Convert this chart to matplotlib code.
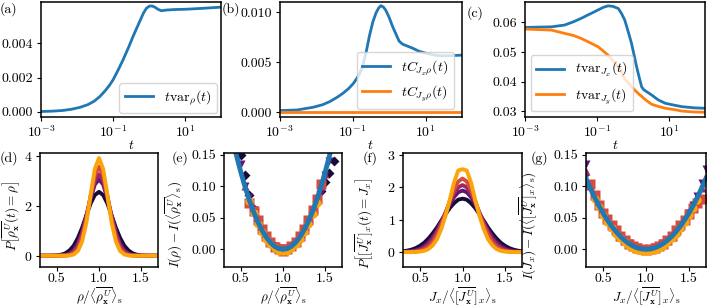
import numpy as np
import matplotlib
matplotlib.use("Agg")
import matplotlib.pyplot as plt
from matplotlib.ticker import FixedLocator, FormatStrFormatter, NullLocator

plt.rcParams.update({
    "font.family": "serif",
    "font.serif": ["cmr10"],
    "mathtext.fontset": "cm",
    "axes.formatter.use_mathtext": True,
    "axes.unicode_minus": False,
    "font.size": 10,
    "axes.linewidth": 1.1,
    "xtick.major.size": 3,
    "ytick.major.size": 3,
    "xtick.major.pad": 2.5,
    "ytick.major.pad": 2.5,
    "legend.fontsize": 10,
})

nan = np.nan

# (a) time-scaled variance of rho
t_a = [0.001, 0.002, 0.004, 0.007, 0.012, 0.02, 0.03, 0.043, 0.06, 0.08, 0.1,
       0.14, 0.19, 0.27, 0.36, 0.45, 0.55, 0.7, 0.85, 1.05, 1.25, 1.45, 1.8,
       2.2, 3.0, 5.0, 11, 30, 100]
var_rho = [0.00002, 0.00004, 0.00008, 0.00015, 0.00026, 0.00042, 0.00062,
           0.00089, 0.00122, 0.00155, 0.00186, 0.00245, 0.00303, 0.00375,
           0.00439, 0.00485, 0.00526, 0.00575, 0.00604, 0.00617, 0.00616,
           0.0061, 0.00597, 0.00589, 0.00593, 0.00596, 0.00598, 0.00603, 0.0061]

# (b) covariances
t_b = [0.001, 0.003, 0.0083, 0.015, 0.024, 0.038, 0.055, 0.08, 0.107, 0.15,
       0.19, 0.24, 0.29, 0.36, 0.44, 0.52, 0.6, 0.7, 0.81, 1.0, 1.24, 1.55,
       1.89, 2.34, 3.2, 4.4, 6.5, 10, 18, 28, 50, 100]
cov_jx = [0.00017, 0.00023, 0.0005, 0.00075, 0.00107, 0.0015, 0.0019, 0.0024,
          0.0029, 0.0037, 0.0046, 0.0061, 0.0076, 0.0090, 0.0099, 0.0104,
          0.01063, 0.0105, 0.0102, 0.0095, 0.0086, 0.0078, 0.0071, 0.0068,
          0.0066, 0.0064, 0.0061, 0.0059, 0.0057, 0.00563, 0.00565, 0.0057]
t_b2 = [0.001, 0.01, 0.1, 1, 10, 100]
cov_jy = [0.00003, 0.00003, 0.00003, 0.00003, 0.00003, 0.00003]

# (c) current variances
t_c = [0.001, 0.0054, 0.0126, 0.022, 0.036, 0.06, 0.107, 0.15, 0.204, 0.28,
       0.39, 0.48, 0.59, 0.75, 0.91, 1.26, 1.55, 1.74, 2.0, 2.4, 3.3, 5.0,
       7.9, 14, 23, 50, 100]
var_jx = [0.0583, 0.0585, 0.0591, 0.0602, 0.06135, 0.0627, 0.0642, 0.0651,
          0.0656, 0.0654, 0.0647, 0.0630, 0.0608, 0.0565, 0.0529, 0.0450,
          0.0405, 0.0382, 0.0372, 0.03655, 0.03544, 0.0338, 0.03264, 0.0320,
          0.03149, 0.0311, 0.03095]
var_jy = [0.05775, 0.0574, 0.05628, 0.0556, 0.0546, 0.0533, 0.05176, 0.0503,
          0.0489, 0.0470, 0.0448, 0.0432, 0.0408, 0.0395, 0.0382, 0.0365,
          0.03544, 0.0350, 0.0343, 0.0335, 0.0323, 0.0316, 0.03095, 0.0305,
          0.0300, 0.0297, 0.0296]

# (d) and (f) histograms, common grid
h_x = [0.30, 0.35, 0.40, 0.45, 0.50, 0.55, 0.60, 0.65, 0.70, 0.75, 0.80,
       0.85, 0.90, 0.95, 1.00, 1.05, 1.10, 1.15, 1.20, 1.25, 1.30, 1.35,
       1.40, 1.45, 1.50, 1.55, 1.60, 1.65, 1.70]
p_rho = [
    [0, 0, 0, 0.005, 0.015, 0.04, 0.095, 0.21, 0.40, 0.71, 1.12, 1.61, 2.08, 2.42,
     2.55, 2.42, 2.08, 1.61, 1.12, 0.71, 0.40, 0.21, 0.095, 0.04, 0.015, 0.005, 0, 0, 0],
    [0, 0, 0, 0, 0, 0.01, 0.03, 0.086, 0.22, 0.49, 0.95, 1.58, 2.28, 2.84,
     3.05, 2.84, 2.28, 1.58, 0.95, 0.49, 0.22, 0.086, 0.03, 0.01, 0, 0, 0, 0, 0],
    [0, 0, 0, 0, 0, 0.004, 0.017, 0.057, 0.17, 0.41, 0.87, 1.55, 2.34, 2.99,
     3.25, 2.99, 2.34, 1.55, 0.87, 0.41, 0.17, 0.057, 0.017, 0.004, 0, 0, 0, 0, 0],
    [0, 0, 0, 0, 0, 0, 0.006, 0.027, 0.10, 0.29, 0.72, 1.45, 2.38, 3.21,
     3.55, 3.21, 2.38, 1.45, 0.72, 0.29, 0.10, 0.027, 0.006, 0, 0, 0, 0, 0, 0],
    [0, 0, 0, 0, 0, 0, 0, 0.01, 0.05, 0.19, 0.57, 1.32, 2.41, 3.46,
     3.9, 3.46, 2.41, 1.32, 0.57, 0.19, 0.05, 0.01, 0, 0, 0, 0, 0, 0, 0],
]
p_jx = [
    [0.025, 0.045, 0.076, 0.124, 0.195, 0.29, 0.42, 0.58, 0.76, 0.97, 1.17, 1.36, 1.51, 1.62,
     1.65, 1.62, 1.51, 1.36, 1.17, 0.97, 0.76, 0.58, 0.42, 0.29, 0.195, 0.124, 0.076, 0.045, 0.025],
    [0.007, 0.015, 0.03, 0.06, 0.11, 0.19, 0.31, 0.47, 0.68, 0.93, 1.21, 1.47, 1.70, 1.85,
     1.9, 1.85, 1.70, 1.47, 1.21, 0.93, 0.68, 0.47, 0.31, 0.19, 0.11, 0.06, 0.03, 0.015, 0.007],
    [0.003, 0.007, 0.017, 0.036, 0.072, 0.137, 0.24, 0.40, 0.62, 0.89, 1.21, 1.53, 1.81, 2.00,
     2.07, 2.00, 1.81, 1.53, 1.21, 0.89, 0.62, 0.40, 0.24, 0.137, 0.072, 0.036, 0.017, 0.007, 0.003],
    [0, 0.003, 0.007, 0.017, 0.04, 0.086, 0.17, 0.31, 0.53, 0.83, 1.19, 1.58, 1.93, 2.18,
     2.27, 2.18, 1.93, 1.58, 1.19, 0.83, 0.53, 0.31, 0.17, 0.086, 0.04, 0.017, 0.007, 0.003, 0],
    [0, 0, 0, 0.005, 0.015, 0.04, 0.095, 0.21, 0.40, 0.71, 1.12, 1.61, 2.15, 2.52,
     2.56, 2.52, 2.15, 1.61, 1.12, 0.71, 0.40, 0.21, 0.095, 0.04, 0.015, 0.005, 0, 0, 0],
]

# (e) rate function of rho
e_x = [0.45, 0.50, 0.55, 0.60, 0.65, 0.70, 0.75, 0.80, 0.85, 0.90, 0.95, 1.00,
       1.05, 1.10, 1.15, 1.20, 1.25, 1.30, 1.35, 1.40, 1.45, 1.50, 1.55, 1.60]
i_rho = [
    [0.172, 0.150, 0.118, 0.086, 0.064, 0.046, 0.032, 0.020, 0.011, 0.005, 0.001, 0.0,
     0.001, 0.005, 0.011, 0.020, 0.031, 0.044, 0.059, 0.076, 0.092, 0.107, 0.122, 0.140],
    [nan, 0.135, 0.100, 0.083, 0.063, 0.046, 0.032, 0.021, 0.012, 0.006, 0.002, 0.001,
     0.002, 0.006, 0.012, 0.021, 0.032, 0.045, 0.060, 0.077, 0.090, 0.118, 0.140, nan],
    [nan, nan, 0.100, 0.080, 0.061, 0.045, 0.031, 0.020, 0.011, 0.005, 0.001, 0.0,
     0.001, 0.005, 0.011, 0.020, 0.031, 0.045, 0.061, 0.080, 0.100, 0.120, nan, nan],
    [nan, nan, nan, 0.074, 0.061, 0.046, 0.032, 0.021, 0.011, 0.004, 0.0, -0.002,
     0.0, 0.005, 0.012, 0.021, 0.033, 0.046, 0.062, 0.080, 0.103, nan, nan, nan],
    [nan, nan, nan, 0.076, 0.057, 0.041, 0.027, 0.016, 0.008, 0.002, -0.002, -0.003,
     -0.002, 0.002, 0.008, 0.016, 0.027, 0.040, 0.056, 0.073, nan, nan, nan, nan],
]
fit_e_x = [0.40, 0.45, 0.50, 0.55, 0.60, 0.65, 0.70, 0.75, 0.80, 0.85, 0.90, 0.95, 1.00,
           1.05, 1.10, 1.15, 1.20, 1.25, 1.30, 1.35, 1.40, 1.45, 1.50, 1.55, 1.60, 1.65]
fit_e = [0.176, 0.148, 0.1225, 0.0992, 0.0784, 0.060, 0.0441, 0.0306, 0.0196, 0.011,
         0.0049, 0.0012, 0.0, 0.0012, 0.0049, 0.011, 0.0196, 0.0306, 0.0441, 0.060,
         0.0784, 0.0992, 0.1225, 0.148, 0.176, 0.207]

# (g) rate function of J_x
i_jx = [
    [0.118, 0.100, 0.083, 0.072, 0.056, 0.049, 0.035, 0.030, 0.019, 0.016, 0.008, 0.007, 0.001, 0.002,
     -0.002, 0.002, 0.001, 0.007, 0.008, 0.016, 0.019, 0.030, 0.035, 0.049, 0.056, 0.072, 0.081, 0.100, 0.113],
    [0.135, 0.103, 0.085, 0.071, 0.058, 0.047, 0.037, 0.029, 0.021, 0.015, 0.010, 0.006, 0.003, 0.001,
     0.001, 0.001, 0.003, 0.006, 0.010, 0.015, 0.021, 0.029, 0.037, 0.047, 0.058, 0.071, 0.085, 0.105, 0.128],
    [0.125, 0.100, 0.084, 0.070, 0.057, 0.046, 0.036, 0.028, 0.020, 0.014, 0.009, 0.005, 0.002, 0.0,
     0.0, 0.0, 0.002, 0.005, 0.009, 0.014, 0.020, 0.028, 0.036, 0.046, 0.057, 0.069, 0.082, 0.098, 0.115],
    [nan, 0.104, 0.086, 0.070, 0.058, 0.049, 0.038, 0.030, 0.022, 0.015, 0.009, 0.005, 0.002, 0.0,
     -0.001, 0.0, 0.002, 0.005, 0.009, 0.015, 0.022, 0.030, 0.038, 0.047, 0.056, 0.065, 0.073, 0.080, nan],
    [nan, nan, 0.080, 0.067, 0.054, 0.044, 0.034, 0.025, 0.018, 0.011, 0.006, 0.002, -0.001, -0.003,
     -0.003, -0.003, -0.001, 0.002, 0.006, 0.011, 0.018, 0.025, 0.034, 0.044, 0.054, 0.066, 0.079, nan, nan],
]
fit_g = [0.1127, 0.0972, 0.0828, 0.0696, 0.0575, 0.0466, 0.0368, 0.0282, 0.0207, 0.0144,
         0.0092, 0.0052, 0.0023, 0.0006, 0.0, 0.0006, 0.0023, 0.0052, 0.0092, 0.0144,
         0.0207, 0.0282, 0.0368, 0.0466, 0.0575, 0.0696, 0.0828, 0.0972, 0.1127]

shades = [plt.cm.inferno(v) for v in (0.1, 0.28, 0.42, 0.58, 0.8)]
markers = ["D", "v", "^", "s", "o"]
msizes = [5, 6, 6, 6.5, 6]

W, H = 707, 308
fig = plt.figure(figsize=(W / 100, H / 100), dpi=100)


def px_axes(x0, x1, y0, y1):
    """Axes from pixel box (left, right, top, bottom)."""
    return fig.add_axes([x0 / W, 1 - y1 / H, (x1 - x0) / W, (y1 - y0) / H])


def time_axes(ax):
    ax.set_xscale("log")
    ax.set_xlim(1e-3, 1e2)
    ax.xaxis.set_major_locator(FixedLocator([1e-3, 1e-1, 1e1]))
    ax.xaxis.set_minor_locator(NullLocator())
    ax.set_xlabel("$t$", labelpad=-1)


def ratio_axes(ax, xlabel, ylabel, ylab_pos):
    ax.set_xlim(0.3, 1.7)
    ax.set_xticks([0.5, 1.0, 1.5])
    ax.xaxis.set_major_formatter(FormatStrFormatter("%.1f"))
    ax.tick_params(axis="x", pad=1.5)
    ax.set_xlabel(xlabel, labelpad=0, fontsize=9.5)
    ax.set_ylabel(ylabel, fontsize=9.5)
    ax.yaxis.set_label_coords(*ylab_pos)


rho_lab = r"$\rho/\langle\overline{\rho^U_{\mathbf{x}}}\rangle_\mathrm{s}$"
jx_lab = r"$J_x/\langle[\overline{J^U_{\mathbf{x}}}]_x\rangle_\mathrm{s}$"

# top row
ax = px_axes(41, 221, 2, 117)
ax.plot(t_a, var_rho, color="tab:blue", lw=2, label=r"$t\mathrm{var}_\rho(t)$")
time_axes(ax)
ax.set_ylim(-0.0003, 0.0064)
ax.set_yticks([0, 0.002, 0.004])
ax.yaxis.set_major_formatter(FormatStrFormatter("%.3f"))
ax.legend(loc="lower right", borderaxespad=0.3)

ax = px_axes(279.5, 462, 2, 117)
ax.plot(t_b, cov_jx, color="tab:blue", lw=2, label=r"$tC_{J_x\rho}(t)$")
ax.plot(t_b2, cov_jy, color="tab:orange", lw=2, label=r"$tC_{J_y\rho}(t)$")
time_axes(ax)
ax.set_ylim(-0.00047, 0.0110)
ax.set_yticks([0, 0.005, 0.010])
ax.yaxis.set_major_formatter(FormatStrFormatter("%.3f"))
ax.legend(loc="lower right", borderaxespad=0.6)

ax = px_axes(525, 705, 2, 117)
ax.plot(t_c, var_jx, color="tab:blue", lw=2, label=r"$t\mathrm{var}_{J_x}(t)$")
ax.plot(t_c, var_jy, color="tab:orange", lw=2, label=r"$t\mathrm{var}_{J_y}(t)$")
time_axes(ax)
ax.set_ylim(0.028, 0.0669)
ax.set_yticks([0.03, 0.04, 0.05, 0.06])
ax.yaxis.set_major_formatter(FormatStrFormatter("%.2f"))
ax.legend(loc="lower left", borderaxespad=0.4)

# bottom row
ax = px_axes(40, 158, 153, 267)
for ys, c in zip(p_rho, shades):
    ax.plot(h_x, ys, color=c, lw=2.8)
ax.set_ylim(-0.45, 4.1)
ax.set_yticks([0, 2, 4])
ratio_axes(ax, rho_lab, r"$P\left[\overline{\rho^U_{\mathbf{x}}}(t)=\rho\right]$", (-0.14, 0.45))

ax = px_axes(224, 342, 153, 267)
for ys, c, m, s in zip(i_rho, shades, markers, msizes):
    ax.plot(e_x, ys, ls="none", marker=m, ms=s, color=c, mec="none")
ax.plot(fit_e_x, fit_e, color="tab:blue", lw=3.5)
ax.set_ylim(-0.028, 0.153)
ax.set_yticks([0, 0.05, 0.10, 0.15])
ax.yaxis.set_major_formatter(FormatStrFormatter("%.2f"))
ratio_axes(ax, rho_lab, r"$I(\rho)-I(\langle\overline{\rho^U_{\mathbf{x}}}\rangle_\mathrm{s})$",
           (-0.33, 0.37))

ax = px_axes(403, 522, 153, 267)
for ys, c in zip(p_jx, shades):
    ax.plot(h_x, ys, color=c, lw=2.8)
ax.set_ylim(-0.46, 3.06)
ax.set_yticks([0, 1, 2, 3])
ratio_axes(ax, jx_lab, r"$P\left[[\overline{J^U_{\mathbf{x}}}]_x(t)=J_x\right]$", (-0.23, 0.38))

ax = px_axes(586, 706, 153, 267)
for ys, c, m, s in zip(i_jx, shades, markers, msizes):
    ax.plot(h_x, ys, ls="none", marker=m, ms=(3 if m == "D" else s), color=c, mec="none")
ax.plot(h_x, fit_g, color="tab:blue", lw=3.5)
ax.set_ylim(-0.028, 0.153)
ax.set_yticks([0, 0.05, 0.10, 0.15])
ax.yaxis.set_major_formatter(FormatStrFormatter("%.2f"))
ratio_axes(ax, jx_lab, r"$I(J_x)-I(\langle[\overline{J^U_{\mathbf{x}}}]_x\rangle_\mathrm{s})$",
           (-0.38, 0.36))

# panel letters
for lab, x, y in [("(a)", 0, 2), ("(b)", 222, 2), ("(c)", 467, 6),
                  ("(d)", 0, 151), ("(e)", 172, 151), ("(f)", 363, 151),
                  ("(g)", 531, 151)]:
    fig.text(x / W, 1 - y / H, lab, ha="left", va="top")

fig.savefig("out.png", dpi=100)
